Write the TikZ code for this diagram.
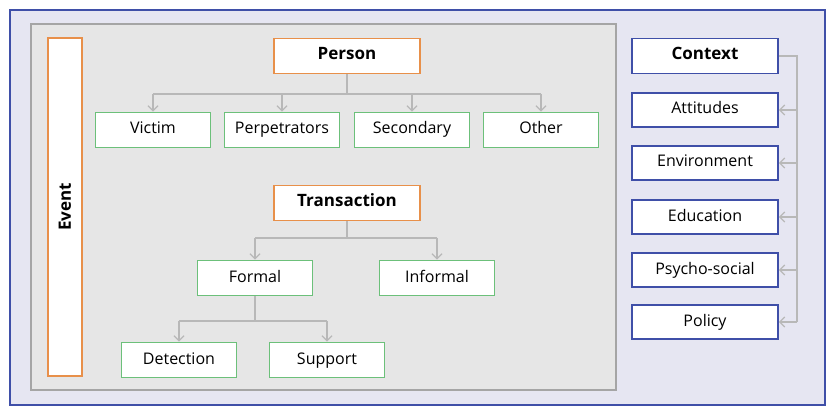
\documentclass[tikz,border=0pt]{standalone}
\usepackage{fontspec}
\setmainfont{Open Sans}
\usetikzlibrary{arrows.meta}
\definecolor{bluel}{HTML}{3F4FA8}
\definecolor{oran}{HTML}{E8904A}
\definecolor{gre}{HTML}{6CC07A}
\definecolor{lav}{HTML}{E6E6F2}
\definecolor{gbg}{HTML}{E6E6E6}
\definecolor{conn}{HTML}{B8B8B8}
\begin{document}
\begin{tikzpicture}[x=1pt,y=-1pt,
  box/.style={draw,line width=1.7pt,fill=white,minimum height=35pt,font=\fontsize{16}{18}\selectfont,inner sep=0pt,text height=12pt,text depth=4pt},
  obox/.style={box,draw=oran,minimum width=146pt,font=\fontsize{17}{19}\selectfont\bfseries},
  gbox/.style={box,draw=gre,minimum width=115pt},
  bbox/.style={box,draw=bluel,minimum width=146pt,minimum height=34pt},
  cn/.style={draw=conn,line width=1.3pt,-{Straight Barb[length=5pt,width=10pt]}},
  ln/.style={draw=conn,line width=1.3pt}]
\useasboundingbox (0,0) rectangle (832,414);
\fill[white] (0,0) rectangle (832,414);
\draw[bluel,line width=1.3pt,fill=lav] (10,10) rectangle (825,405);
\draw[conn!90!black,line width=1.6pt,fill=gbg] (31,24) rectangle (616,390);
\node[draw=oran,line width=1.7pt,fill=white,minimum width=34pt,minimum height=338pt] (ev) at (65,207) {};
\node[rotate=90,font=\fontsize{17}{19}\selectfont\bfseries] (evt) at (ev.center) {Event};
\node[obox] (per) at (347,56) {Person};
\node[gbox] (vic) at (153,130) {Victim};
\node[gbox] (perp) at (282,130) {Perpetrators};
\node[gbox] (sec) at (412,130) {Secondary};
\node[gbox] (oth) at (541,130) {Other};
\node[obox] (tra) at (347,203) {Transaction};
\node[gbox] (for) at (255,278) {Formal};
\node[gbox] (inf) at (437,278) {Informal};
\node[gbox] (det) at (179,360) {Detection};
\node[gbox] (sup) at (327,360) {Support};
\coordinate (p1) at (347,94);
\path[ln] (per.south) -- (p1);
\foreach \n in {vic,perp,sec,oth}{\path[cn] (p1-|\n) -- (\n.north);}
\path[ln] (p1-|vic) -- (p1-|oth);
\coordinate (t1) at (347,238);
\path[ln] (tra.south) -- (t1);
\path[ln] (t1-|for) -- (t1-|inf);
\foreach \n in {for,inf}{\path[cn] (t1-|\n) -- (\n.north);}
\coordinate (f1) at (255,321);
\path[ln] (for.south) -- (f1);
\path[ln] (f1-|det) -- (f1-|sup);
\foreach \n in {det,sup}{\path[cn] (f1-|\n) -- (\n.north);}
\node[bbox,minimum height=35pt,font=\fontsize{17}{19}\selectfont\bfseries] (ctx) at (705,56) {Context};
\node[bbox] (att) at (705,110) {Attitudes};
\node[bbox] (env) at (705,163) {Environment};
\node[bbox] (edu) at (705,217) {Education};
\node[bbox] (psy) at (705,270) {Psycho-social};
\node[bbox] (pol) at (705,322) {Policy};
\coordinate (c1) at (797,56);
\path[ln] (ctx.east) -- (c1) -- (c1|-pol);
\foreach \n in {att,env,edu,psy,pol}{\path[cn] (c1|-\n) -- (\n.east);}
\end{tikzpicture}
\end{document}
